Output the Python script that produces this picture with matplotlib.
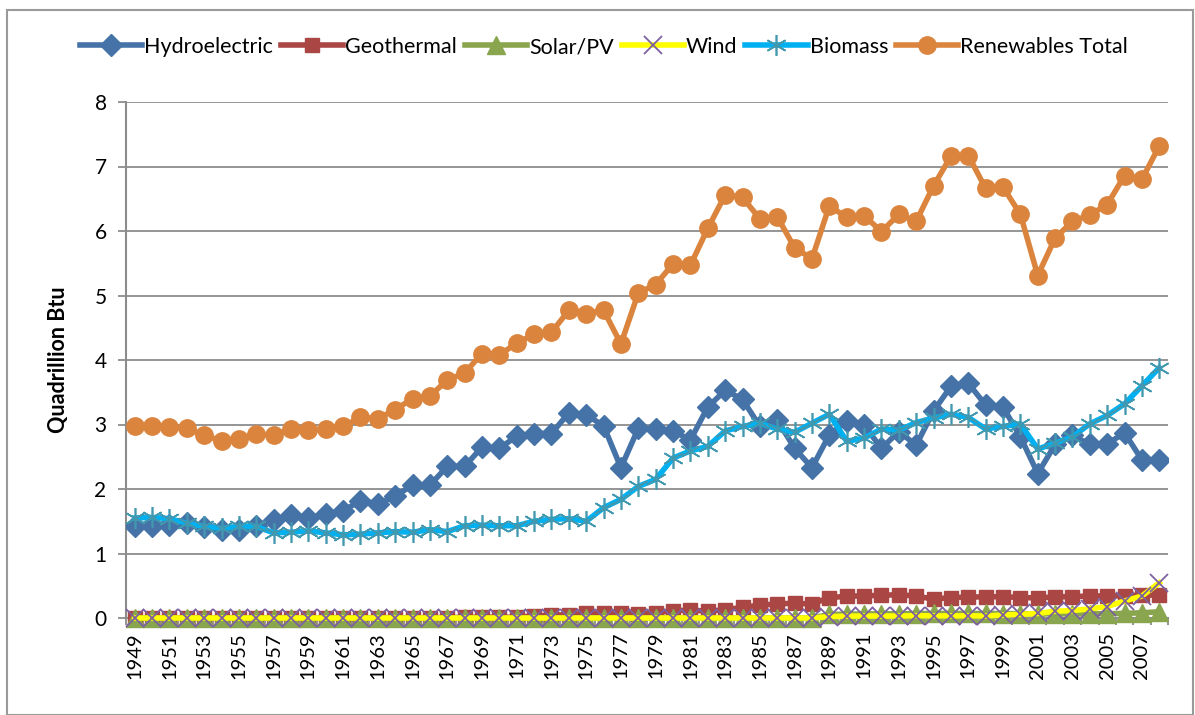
import matplotlib
matplotlib.use("Agg")
import matplotlib.pyplot as plt
import matplotlib.patches as mpatches

# Jahre und Werte (Quadrillion Btu)
years = list(range(1949, 2009))

hydro = [1.42, 1.42, 1.44, 1.47, 1.41, 1.36, 1.36, 1.43, 1.52, 1.59,
         1.55, 1.61, 1.66, 1.82, 1.77, 1.89, 2.06, 2.06, 2.35, 2.35,
         2.65, 2.63, 2.82, 2.86, 2.86, 3.18, 3.15, 2.98, 2.33, 2.94,
         2.93, 2.90, 2.76, 3.27, 3.53, 3.39, 2.97, 3.07, 2.63, 2.33,
         2.84, 3.05, 2.99, 2.63, 2.89, 2.68, 3.21, 3.59, 3.64, 3.30,
         3.27, 2.81, 2.24, 2.69, 2.83, 2.69, 2.70, 2.87, 2.45, 2.45]

geothermal = [0.0] * 11 + [0.001, 0.002, 0.002, 0.004, 0.004, 0.004, 0.004,
              0.007, 0.009, 0.013, 0.011, 0.012, 0.031, 0.043, 0.053,
              0.070, 0.078, 0.077, 0.064, 0.084, 0.110, 0.123, 0.105,
              0.129, 0.165, 0.198, 0.219, 0.229, 0.217, 0.317, 0.336,
              0.346, 0.349, 0.364, 0.338, 0.294, 0.316, 0.325, 0.328,
              0.331, 0.317, 0.311, 0.328, 0.331, 0.341, 0.343, 0.343,
              0.349, 0.360]

solar = [0.0] * 40 + [0.055, 0.060, 0.063, 0.064, 0.066, 0.069, 0.070,
         0.071, 0.070, 0.070, 0.069, 0.066, 0.065, 0.064, 0.064, 0.065,
         0.066, 0.072, 0.081, 0.097]

wind = [0.0] * 40 + [0.022, 0.029, 0.031, 0.030, 0.031, 0.036, 0.033,
        0.033, 0.034, 0.031, 0.046, 0.057, 0.070, 0.105, 0.115, 0.142,
        0.178, 0.264, 0.341, 0.546]

biomass = [1.55, 1.56, 1.54, 1.47, 1.42, 1.39, 1.42, 1.42, 1.32, 1.33,
           1.35, 1.32, 1.29, 1.30, 1.32, 1.34, 1.33, 1.37, 1.34, 1.43,
           1.44, 1.43, 1.43, 1.50, 1.53, 1.54, 1.50, 1.71, 1.84, 2.04,
           2.15, 2.48, 2.59, 2.66, 2.90, 2.97, 3.02, 2.93, 2.88, 3.02,
           3.16, 2.74, 2.79, 2.93, 2.91, 3.03, 3.10, 3.16, 3.11, 2.93,
           2.97, 3.01, 2.62, 2.71, 2.81, 3.01, 3.14, 3.32, 3.60, 3.88]

total = [2.97, 2.98, 2.96, 2.94, 2.83, 2.75, 2.78, 2.85, 2.84, 2.93,
         2.91, 2.93, 2.97, 3.11, 3.09, 3.23, 3.40, 3.44, 3.69, 3.80,
         4.10, 4.08, 4.26, 4.40, 4.43, 4.77, 4.72, 4.77, 4.25, 5.04,
         5.17, 5.49, 5.47, 6.04, 6.56, 6.52, 6.19, 6.22, 5.74, 5.57,
         6.39, 6.21, 6.24, 5.99, 6.26, 6.15, 6.70, 7.16, 7.17, 6.66,
         6.68, 6.26, 5.31, 5.89, 6.15, 6.25, 6.41, 6.86, 6.80, 7.32]

plt.rcParams["font.family"] = ["Lato", "DejaVu Sans"]

fig = plt.figure(figsize=(11.95, 7.15), dpi=100)
ax = fig.add_axes([126 / 1195, 1 - 618 / 715, 1042 / 1195, 516 / 715])

x = list(range(len(years)))
lw = 4

ax.plot(x, hydro, color="#4572A7", lw=lw, marker="D", ms=11,
        label="Hydroelectric", zorder=3)
ax.plot(x, geothermal, color="#AA4643", lw=lw, marker="s", ms=10,
        label="Geothermal", zorder=4, clip_on=False)
ax.plot(x, solar, color="#89A54E", lw=lw, marker="^", ms=13,
        label="Solar/PV", zorder=5, clip_on=False)
ax.plot(x, wind, color="#FFFF00", lw=lw, marker="x", ms=13, mew=1.3,
        mec="#7D60A0", label="Wind", zorder=6, clip_on=False)
ax.plot(x, biomass, color="#00B0F0", lw=lw, marker=(6, 2, 0), ms=15,
        mew=1.2, mec="#4198AF", label="Biomass", zorder=7)
ax.plot(x, total, color="#DB843D", lw=lw, marker="o", ms=12.5,
        label="Renewables Total", zorder=8)

ax.set_xlim(-0.5, len(years) - 0.5)
ax.set_ylim(0, 8)
ax.set_yticks(range(0, 9))
ax.yaxis.grid(True, color="#8C8C8C", lw=1.3)
ax.set_axisbelow(True)

# Striche an den Kategoriegrenzen, Beschriftung jedes zweite Jahr
ax.set_xticks([i - 0.5 for i in range(len(years) + 1)])
ax.set_xticklabels([])
ax.set_xticks(x[::2], [str(y) for y in years[::2]], minor=True)
ax.tick_params(axis="x", which="major", length=5, color="#8C8C8C", width=1.3)
ax.tick_params(axis="x", which="minor", length=0, rotation=90, labelsize=14.5,
               pad=10)
ax.tick_params(axis="y", length=6, color="#8C8C8C", width=1.3, labelsize=15,
               pad=8)

for s in ["top", "right"]:
    ax.spines[s].set_visible(False)
for s in ["left", "bottom"]:
    ax.spines[s].set_color("#8C8C8C")
    ax.spines[s].set_linewidth(1.5)

ax.set_ylabel("Quadrillion Btu", fontsize=15.5, fontweight="bold", labelpad=18)

fig.legend(loc="center", bbox_to_anchor=(604 / 1195, 1 - 47 / 715), ncol=6,
           frameon=False, fontsize=15.5, handlelength=2.9, handletextpad=0.1,
           columnspacing=0.35, borderaxespad=0)

fig.patches.append(mpatches.Rectangle((7 / 1195, 0), 1186 / 1195, 1 - 10 / 715,
                                      transform=fig.transFigure, fill=False,
                                      edgecolor="#9A9A9A", lw=1.5))

fig.savefig("out.png", dpi=100)
